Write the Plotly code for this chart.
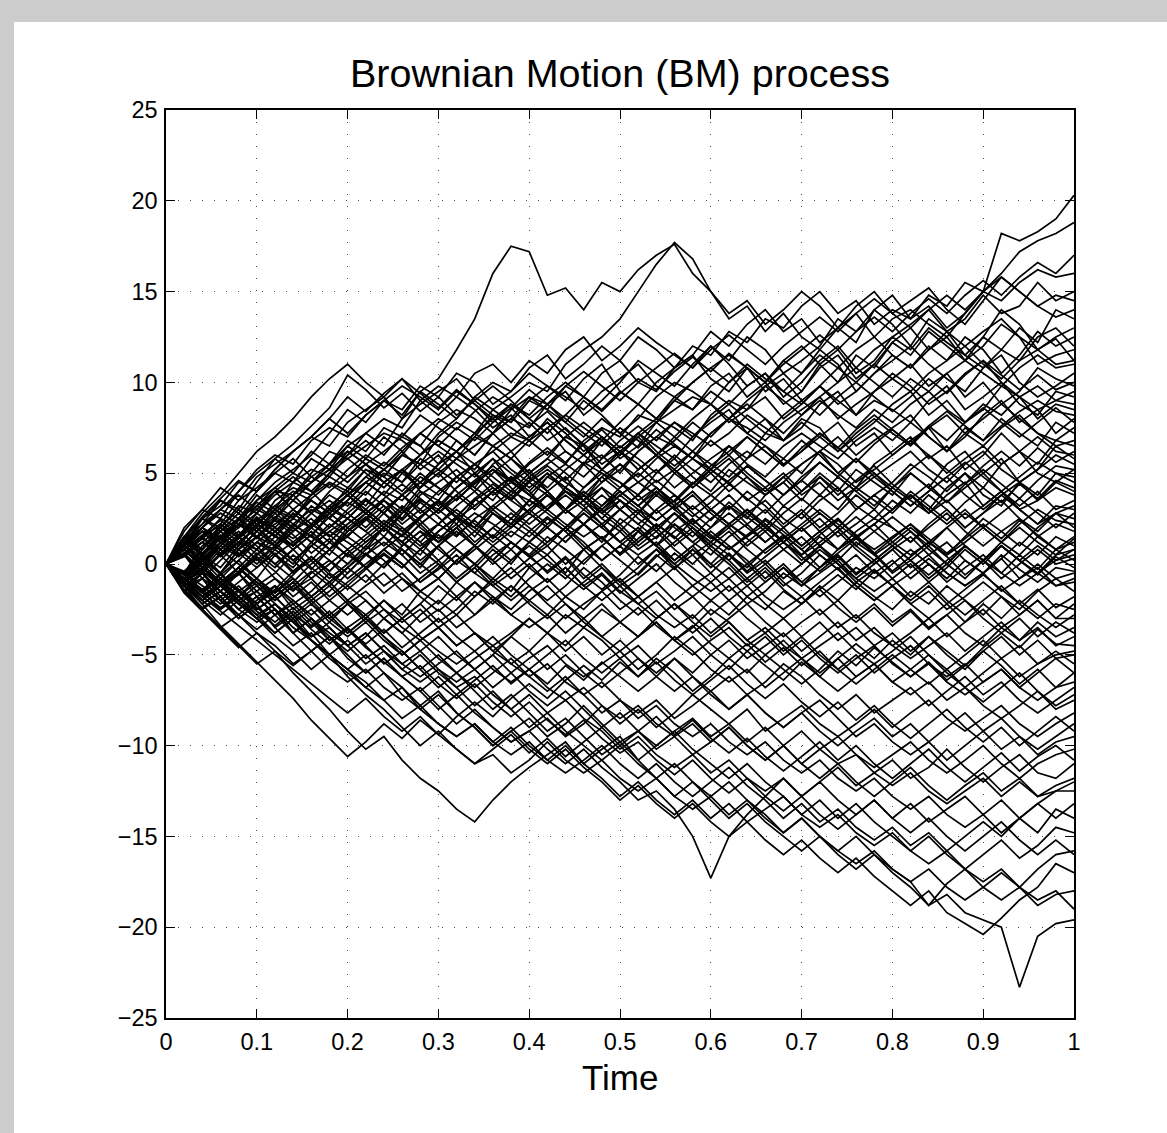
import plotly.graph_objects as go

# ---------------- data ----------------
# time grid of the simulated paths
TIME = [0, 0.02, 0.04, 0.06, 0.08, 0.10, 0.12, 0.14, 0.16, 0.18, 0.20,
        0.22, 0.24, 0.26, 0.28, 0.30, 0.32, 0.34, 0.36, 0.38, 0.40,
        0.42, 0.44, 0.46, 0.48, 0.50, 0.52, 0.54, 0.56, 0.58, 0.60,
        0.62, 0.64, 0.66, 0.68, 0.70, 0.72, 0.74, 0.76, 0.78, 0.80,
        0.82, 0.84, 0.86, 0.88, 0.90, 0.92, 0.94, 0.96, 0.98, 1.00]

# path values, recorded in tenths of a unit (value = entry * UNIT)
UNIT = 0.1

path_01 = [0,10,18,12,25,38,30,45,52,48,60, 72,65,80,95,102,118,135,160,175,172, 148,152,140,155,150,162,170,176,160,150, 135,142,128,138,125,118,130,122,140,132, 120,135,128,115,125,140,132,118,124,112]
path_02 = [0,-8,5,15,22,18,30,25,38,45,40, 52,48,60,55,70,78,72,85,92,100, 95,110,118,125,135,150,165,177,168,150, 138,145,132,140,150,142,130,138,125,135, 140,132,125,138,150,182,178,183,190,203]
path_03 = [0,12,5,18,28,20,35,42,38,50,62, 55,48,60,72,65,58,70,82,78,90, 85,98,92,105,112,100,95,108,120,115, 128,122,135,130,142,150,138,145,132,140, 135,148,142,155,150,160,172,178,182,188]
path_04 = [0,-10,2,-5,8,15,10,22,30,25,35, 45,38,50,42,55,68,60,72,80,75, 88,95,82,90,100,112,105,98,110,120, 112,125,118,105,112,120,135,128,140,148, 135,142,130,138,150,145,155,162,158,160]
path_05 = [0,15,8,22,35,42,50,45,58,52,65, 72,80,75,90,98,92,105,110,100,112, 105,118,125,112,120,130,122,115,108,120, 110,98,105,92,100,112,120,108,118,125, 132,140,128,135,148,138,142,155,145,150]
path_06 = [0,-15,-5,-18,-10,-2,8,0,12,5,18, 25,15,28,35,30,42,50,38,45,55, 62,55,68,75,70,82,78,90,85,98, 105,92,100,88,95,108,115,102,110,122, 115,128,120,112,125,118,130,122,140,135]
path_07 = [0,8,20,28,22,35,45,52,60,72,85, 78,90,82,95,88,80,92,100,95,105, 98,90,102,110,95,88,100,108,115,102, 95,108,100,112,105,118,110,95,105,115, 108,120,112,125,118,105,115,128,120,125]
path_08 = [0,-5,10,18,10,22,15,28,20,32,40, 32,45,52,40,35,48,42,55,62,50, 58,70,65,52,60,72,80,75,68,82, 90,85,98,105,95,110,100,115,108,122, 130,118,125,112,120,132,125,110,115,118]
path_09 = [0,10,0,12,25,18,30,22,15,28,35, 45,38,30,42,50,58,52,65,72,68, 80,72,62,70,58,65,78,85,92,88, 100,108,95,102,90,98,88,95,105,112, 120,110,102,95,108,115,100,92,98,105]
path_10 = [0,-12,-20,-8,-15,-25,-18,-10,-22,-15,-5, 5,-2,10,18,12,25,20,32,40,35, 48,42,55,60,50,62,70,65,58,72, 80,75,68,78,85,92,80,88,95,102, 110,98,105,92,100,88,95,108,102,98]
path_11 = [0,20,30,42,35,48,55,62,70,65,78, 85,92,80,88,95,102,90,82,75,68, 75,62,55,68,60,72,65,58,70,78, 85,72,80,68,75,88,95,82,90,85, 78,90,98,85,92,100,88,82,95,92]
path_12 = [0,-8,-18,-10,-2,-12,-5,5,-3,8,15, 8,20,12,5,18,25,15,28,22,35, 30,42,35,48,55,45,38,50,58,52, 65,58,72,68,80,75,62,70,78,88, 95,82,90,78,85,98,92,80,88,85]
path_13 = [0,12,25,18,10,22,30,38,28,40,48, 55,62,70,65,78,85,80,72,85,92, 88,80,72,65,75,68,60,52,62,55, 48,58,65,55,62,70,78,65,72,60, 68,75,62,70,82,90,78,85,72,80]
path_14 = [0,-10,-3,8,0,-8,5,-2,10,18,12, 5,15,8,-2,10,20,28,22,15,25, 32,40,35,28,38,45,52,42,50,58, 65,55,48,58,50,62,70,60,68,75, 82,70,62,75,68,80,72,65,78,72]
path_15 = [0,15,5,-5,8,18,10,20,32,25,18, 28,20,12,22,30,22,35,42,35,28, 38,30,42,50,45,38,50,58,48,40, 52,45,38,48,55,62,50,42,55,62, 70,58,65,52,60,72,62,55,68,65]
path_16 = [0,5,-8,-15,-5,-18,-12,-25,-18,-10,-20, -12,-5,-15,-8,0,-10,-2,8,0,12, 5,15,22,12,25,18,30,38,28,20, 32,25,38,45,35,48,40,52,45,38, 50,42,55,62,50,58,45,52,65,58]
path_17 = [0,10,18,8,15,5,12,22,15,8,20, 28,35,25,38,45,52,42,35,48,40, 30,42,35,25,35,28,40,32,22,30, 38,28,20,32,25,35,42,30,38,45, 55,48,40,50,42,55,62,50,45,52]
path_18 = [0,-15,-25,-18,-30,-22,-35,-28,-40,-32,-22, -30,-20,-28,-15,-22,-10,-18,-8,-15,-2, 5,-5,8,15,5,18,10,22,15,25, 32,22,30,20,28,38,30,42,35,28, 38,30,42,50,38,32,45,38,50,45]
path_19 = [0,8,-2,10,22,30,25,35,45,52,60, 68,60,72,65,55,62,50,58,45,52, 40,48,35,42,30,38,28,35,45,38, 30,40,32,22,30,20,28,38,30,42, 35,28,38,45,32,40,30,35,45,40]
path_20 = [0,-5,5,15,8,0,10,2,-8,0,8, -2,-12,-5,-15,-8,2,-5,5,12,5, 15,8,0,10,18,8,15,22,12,5, 15,22,12,20,28,18,25,15,22,30, 38,28,35,25,32,40,30,22,28,32]
path_21 = [0,12,20,12,25,32,40,30,38,48,42, 52,45,38,28,35,25,32,40,48,38, 30,40,32,22,12,20,10,18,25,15, 8,15,22,12,5,15,8,18,25,20, 12,22,30,20,28,35,25,18,28,25]
path_22 = [0,-10,-18,-25,-15,-22,-12,-20,-28,-20,-12, -20,-30,-22,-32,-25,-35,-28,-18,-25,-15, -8,-18,-10,-2,-12,-5,5,-3,8,0, 10,2,-8,0,-10,-2,8,15,5,12, 20,12,5,15,25,18,10,20,28,20]
path_23 = [0,8,15,5,12,2,10,18,25,15,22, 30,22,15,25,35,28,20,30,22,15, 25,18,8,15,5,12,22,15,5,-5, 5,-2,8,15,5,12,20,10,2,10, 18,8,0,10,2,12,20,12,5,14]
path_24 = [0,-12,-5,-15,-25,-32,-25,-38,-30,-42,-35, -28,-38,-30,-22,-32,-25,-15,-22,-12,-20, -28,-18,-25,-15,-8,-18,-10,-2,-12,-20, -12,-22,-15,-5,-12,-2,5,-5,2,-8, 0,-10,-2,8,0,10,2,-5,5,8]
path_25 = [0,15,25,35,28,40,50,58,48,55,65, 58,70,62,52,60,48,55,45,38,48, 40,30,38,28,35,25,18,28,20,12, 20,10,18,8,0,10,2,12,5,-5, 2,-8,0,10,2,-5,5,-3,8,2]
path_26 = [0,-8,2,-5,5,12,5,-5,2,12,5, -2,8,0,-10,-3,5,-5,-12,-5,3, 10,0,8,-2,-10,-2,8,0,-8,-15, -8,-18,-10,-2,-10,-18,-10,-2,-8,0, 8,0,-8,2,-5,5,-3,-10,-2,-4]
path_27 = [0,10,2,12,20,28,20,30,22,32,25, 18,28,20,12,22,30,22,15,25,18, 10,20,12,2,10,0,8,-2,5,12, 5,-5,2,-8,0,8,0,-10,-3,-12, -5,3,-5,-12,-5,-15,-8,-2,-12,-10]
path_28 = [0,-5,-15,-8,-20,-12,-22,-30,-22,-32,-40, -32,-42,-50,-42,-35,-45,-38,-48,-40,-30, -38,-28,-35,-25,-32,-40,-30,-22,-30,-20, -28,-18,-25,-15,-22,-12,-20,-10,-18,-25, -15,-22,-12,-20,-28,-18,-25,-15,-8,-15]
path_29 = [0,12,5,15,8,18,28,20,12,22,15, 25,35,28,40,32,42,50,42,35,45, 38,28,35,25,18,28,20,10,18,8, 0,-10,-2,-12,-5,5,-3,-12,-20,-12, -22,-15,-25,-18,-10,-18,-28,-20,-30,-22]
path_30 = [0,-15,-8,-20,-28,-20,-12,-22,-15,-5,-12, -3,5,-2,8,0,-10,-2,-12,-20,-12, -22,-30,-22,-15,-25,-18,-28,-35,-28,-38, -30,-22,-32,-40,-32,-25,-35,-28,-38,-45, -38,-30,-40,-32,-22,-30,-20,-28,-35,-28]
path_31 = [0,5,15,22,15,25,18,10,20,28,38, 30,22,30,20,12,20,10,2,12,5, -5,3,-8,0,-10,-18,-10,-20,-12,-5, -15,-8,-18,-25,-18,-28,-20,-30,-22,-32, -25,-35,-28,-38,-45,-35,-42,-32,-40,-35]
path_32 = [0,-10,-20,-12,-22,-30,-38,-30,-42,-50,-42, -52,-45,-55,-62,-55,-48,-58,-50,-40,-48, -38,-45,-35,-42,-52,-45,-55,-48,-40,-50, -42,-52,-45,-38,-48,-40,-32,-42,-35,-45, -52,-45,-38,-48,-40,-32,-42,-35,-45,-40]
path_33 = [0,8,0,-10,-2,8,0,-8,-18,-10,-20, -28,-20,-30,-22,-12,-20,-10,-18,-28,-35, -28,-38,-30,-40,-48,-40,-32,-42,-35,-25, -32,-42,-35,-45,-52,-45,-38,-48,-55,-48, -40,-50,-58,-50,-42,-52,-45,-55,-50,-48]
path_34 = [0,-12,-22,-15,-25,-18,-28,-20,-30,-38,-45, -38,-48,-55,-48,-58,-65,-58,-50,-60,-52, -45,-55,-62,-55,-48,-58,-50,-40,-48,-58, -65,-58,-68,-60,-52,-62,-70,-62,-55,-65, -58,-50,-60,-68,-60,-52,-62,-55,-48,-55]
path_35 = [0,10,20,12,22,15,5,12,2,-8,0, 10,2,-8,-15,-8,-18,-10,-20,-28,-20, -12,-22,-30,-22,-32,-40,-32,-42,-50,-42, -35,-45,-38,-48,-40,-50,-58,-50,-60,-52, -45,-55,-62,-55,-65,-58,-68,-60,-52,-60]
path_36 = [0,-8,-15,-5,-15,-25,-18,-10,-20,-12,-22, -15,-25,-32,-25,-35,-28,-38,-45,-38,-30, -38,-48,-40,-50,-42,-52,-60,-52,-62,-70, -62,-72,-65,-55,-62,-72,-80,-72,-82,-75, -68,-78,-70,-62,-72,-65,-75,-82,-75,-68]
path_37 = [0,12,22,30,38,30,40,48,40,30,38, 28,20,30,22,12,20,10,0,8,-2, -10,-2,-12,-20,-12,-22,-30,-22,-32,-40, -32,-42,-50,-42,-52,-60,-52,-62,-55,-65, -72,-65,-75,-68,-78,-85,-78,-70,-80,-75]
path_38 = [0,-15,-25,-35,-28,-38,-45,-55,-48,-58,-65, -58,-68,-75,-68,-78,-88,-80,-90,-98,-92, -85,-95,-88,-78,-88,-80,-90,-82,-72,-80, -88,-80,-92,-85,-78,-88,-95,-88,-80,-90, -82,-75,-85,-92,-85,-78,-88,-95,-88,-82]
path_39 = [0,8,-2,-10,-2,-12,-20,-12,-22,-30,-22, -32,-25,-35,-42,-35,-45,-38,-48,-55,-48, -58,-50,-60,-68,-60,-52,-62,-70,-62,-72, -80,-72,-82,-90,-82,-92,-100,-92,-85,-95, -88,-98,-90,-82,-92,-85,-95,-102,-95,-88]
path_40 = [0,-5,5,-5,-15,-8,-18,-28,-20,-30,-38, -30,-40,-48,-58,-50,-60,-68,-60,-52,-62, -70,-62,-72,-65,-75,-82,-75,-85,-78,-70, -80,-72,-82,-90,-82,-75,-85,-95,-88,-98, -105,-98,-108,-100,-92,-102,-95,-105,-98,-95]
path_41 = [0,-12,-25,-35,-45,-55,-48,-60,-70,-80,-92, -102,-95,-108,-118,-125,-135,-142,-130,-120,-112, -105,-98,-110,-102,-95,-108,-100,-92,-85,-95, -88,-98,-90,-100,-110,-102,-95,-105,-112,-105, -98,-108,-115,-108,-100,-110,-118,-110,-105,-102]
path_42 = [0,-8,-18,-10,-22,-30,-25,-38,-48,-40,-52, -60,-52,-62,-70,-80,-72,-82,-90,-98,-92, -102,-110,-102,-112,-120,-130,-125,-135,-150,-173, -150,-138,-128,-118,-128,-120,-112,-122,-115,-108, -118,-112,-102,-112,-120,-112,-105,-115,-118,-110]
path_43 = [0,5,-5,-15,-22,-15,-25,-35,-42,-52,-60, -68,-60,-72,-80,-72,-82,-90,-100,-92,-85, -95,-88,-78,-88,-98,-92,-102,-95,-105,-98, -90,-100,-108,-100,-110,-118,-110,-120,-128,-120, -112,-122,-130,-122,-115,-125,-118,-128,-122,-118]
path_44 = [0,-10,-2,-12,-20,-28,-22,-32,-40,-35,-45, -55,-48,-58,-50,-60,-68,-62,-72,-80,-72, -82,-75,-85,-92,-102,-95,-105,-112,-105,-115, -108,-118,-125,-118,-128,-120,-130,-138,-130,-140, -132,-142,-135,-128,-138,-130,-140,-132,-125,-125]
path_45 = [0,10,2,-8,-15,-25,-18,-28,-35,-28,-38, -30,-40,-50,-42,-52,-60,-52,-45,-55,-62, -55,-65,-72,-82,-75,-85,-78,-88,-95,-88, -98,-105,-98,-108,-115,-108,-118,-125,-118,-128, -135,-128,-138,-145,-138,-148,-140,-132,-140,-132]
path_46 = [0,-15,-8,-20,-30,-22,-35,-45,-38,-50,-58, -65,-75,-68,-80,-88,-95,-88,-98,-105,-98, -108,-115,-108,-100,-110,-118,-110,-120,-128,-120, -112,-122,-130,-140,-132,-142,-135,-145,-152,-145, -155,-148,-158,-150,-142,-150,-140,-148,-135,-140]
path_47 = [0,8,15,5,-5,3,-8,-18,-10,-20,-28, -20,-30,-38,-48,-40,-50,-58,-68,-60,-70, -78,-70,-80,-90,-82,-92,-100,-92,-102,-110, -118,-110,-120,-128,-138,-130,-140,-132,-142,-150, -158,-150,-160,-168,-160,-152,-162,-155,-145,-148]
path_48 = [0,-10,-20,-28,-20,-30,-40,-48,-58,-50,-62, -72,-80,-90,-100,-92,-102,-110,-105,-115,-108, -98,-108,-115,-108,-118,-125,-118,-128,-135,-128, -138,-130,-140,-148,-140,-150,-158,-150,-160,-168, -175,-168,-178,-185,-178,-170,-178,-168,-160,-158]
path_49 = [0,-5,-15,-25,-18,-28,-38,-30,-42,-50,-58, -50,-60,-68,-78,-70,-82,-90,-100,-92,-102, -110,-102,-112,-120,-130,-122,-132,-140,-132,-142, -150,-142,-152,-160,-152,-162,-170,-162,-172,-180, -188,-180,-192,-198,-204,-195,-185,-178,-165,-170]
path_50 = [0,-12,-5,-15,-25,-18,-28,-22,-32,-42,-35, -45,-55,-48,-58,-68,-60,-70,-80,-72,-82, -92,-85,-95,-105,-98,-108,-118,-110,-120,-128, -120,-130,-138,-148,-140,-150,-158,-165,-158,-168, -175,-188,-182,-192,-196,-200,-233,-205,-198,-196]
path_51 = [0,8,-2,-12,-5,-15,-25,-32,-25,-35,-45, -38,-48,-58,-65,-58,-68,-78,-70,-80,-90, -82,-92,-100,-108,-100,-110,-118,-128,-120,-130, -140,-132,-142,-150,-158,-150,-160,-168,-160,-170, -178,-188,-176,-168,-178,-185,-178,-188,-182,-180]
path_52 = [0,-10,-18,-10,-20,-30,-22,-32,-42,-50,-58, -68,-75,-85,-78,-88,-95,-88,-98,-90,-100, -108,-100,-110,-118,-128,-120,-130,-138,-130,-140, -132,-142,-135,-128,-138,-145,-138,-148,-155,-148, -158,-165,-158,-168,-175,-168,-178,-185,-180,-190]
path_53 = [0,15,8,18,25,15,25,35,28,20,30, 40,32,22,30,40,48,40,30,38,28, 20,30,38,28,20,10,18,8,0,10, 2,-8,0,-10,-18,-10,-2,-12,-20,-12, -22,-30,-22,-32,-25,-35,-28,-20,-30,-30]
path_54 = [0,-8,0,10,18,10,0,8,-2,-10,-2, 8,15,5,-5,2,10,18,10,2,12, 20,12,22,30,22,12,20,28,20,10, 2,12,20,12,2,10,0,-8,0,8, 15,5,12,2,-5,3,12,5,15,10]
path_55 = [0,-12,-20,-12,-2,-10,-18,-10,0,8,0, 10,20,12,22,30,38,30,40,48,40, 50,42,35,45,55,48,58,65,58,50, 40,48,38,45,55,62,55,45,52,60, 68,60,50,58,65,55,62,70,62,60]
path_56 = [0,5,12,20,12,20,10,2,10,18,25, 18,10,20,12,2,-8,0,-10,-2,-12, -20,-12,-2,-10,-20,-28,-20,-30,-38,-30, -40,-48,-40,-50,-42,-52,-60,-52,-45,-55, -62,-55,-65,-72,-65,-58,-68,-75,-68,-65]
path_57 = [0,15,28,38,50,62,70,80,92,102,110, 100,92,102,90,82,92,85,75,82,70, 78,68,60,70,62,52,60,50,42,52, 45,35,42,32,40,50,42,32,25,35, 28,38,30,20,28,38,30,22,32,30]
path_58 = [0,-5,3,12,5,15,25,18,28,35,28, 20,30,38,45,38,48,55,48,40,50, 58,50,42,52,45,35,42,32,40,30, 22,30,20,12,20,10,18,8,0,8, -2,5,-5,-12,-5,3,-8,0,-8,-5]
path_59 = [0,10,20,12,5,15,22,30,22,15,25, 35,28,38,30,22,32,40,50,58,50, 42,52,60,68,60,70,78,70,80,88, 80,90,98,90,82,92,100,108,100,92, 102,95,105,112,105,98,108,115,108,110]
path_60 = [0,-5,-12,-20,-12,-22,-15,-8,-18,-28,-20, -30,-38,-30,-40,-48,-55,-48,-58,-65,-58, -68,-75,-68,-78,-85,-78,-88,-95,-88,-98, -90,-100,-108,-100,-92,-102,-110,-105,-115,-122, -115,-125,-132,-125,-118,-128,-120,-128,-125,-120]
path_61 = [0,18,30,25,40,52,60,55,68,75,70, 82,90,85,98,92,105,100,88,95,108, 115,102,110,120,112,125,118,108,115,128, 120,132,140,128,135,122,130,142,150,138, 145,152,140,132,145,158,150,142,148,145]
path_62 = [0,-6,8,20,32,28,40,38,50,62,58, 65,72,68,60,72,80,92,85,78,90, 98,92,85,95,102,110,98,92,100,108, 115,108,100,112,120,110,118,105,112,125, 118,130,122,115,108,118,112,125,130,120]
path_63 = [0,14,22,35,30,45,58,50,62,55,68, 62,75,70,82,75,68,60,72,80,92, 85,78,90,82,72,80,92,100,95,88, 78,85,92,80,88,98,90,82,95,105, 98,88,95,105,112,100,92,85,90,95]
path_64 = [0,-10,-22,-15,-5,5,15,10,22,30,42, 38,50,45,58,52,62,70,65,58,48, 55,62,55,45,52,62,70,78,72,65, 72,82,75,68,78,70,62,72,80,72, 65,75,82,72,80,88,80,72,68,75]
path_65 = [0,10,25,32,45,40,52,62,70,80,72, 82,90,98,92,85,95,88,80,70,78, 68,75,65,55,62,52,60,70,62,72, 80,72,65,58,68,60,50,58,48,55, 62,52,45,55,62,52,45,52,60,55]
path_66 = [0,-5,-15,-8,2,12,8,18,28,38,32, 42,52,60,55,48,58,65,72,62,70, 78,68,60,52,62,55,45,52,42,50, 58,48,40,48,38,45,35,42,50,40, 32,40,48,38,30,38,45,35,42,38]
path_67 = [0,12,8,20,15,28,38,45,40,50,58, 50,42,52,60,68,62,55,62,52,45, 52,45,38,48,40,32,40,30,38,28, 20,28,35,25,18,25,15,22,30,20, 12,20,28,18,10,18,25,15,22,18]
path_68 = [0,-12,-8,2,12,8,18,25,35,28,38, 45,52,45,55,62,55,48,58,50,42, 50,40,32,42,35,28,38,30,22,30, 22,15,25,18,10,18,8,15,22,12, 5,12,20,10,2,10,2,-5,2,5]
path_69 = [0,8,18,15,25,32,25,38,45,52,45, 55,48,40,50,42,35,45,52,42,32, 40,30,22,30,38,30,20,28,18,10, 18,8,0,8,15,5,-3,5,-5,2, -8,0,-10,-2,5,-5,-12,-5,-12,-8]
path_70 = [0,-10,-18,-12,-20,-15,-8,-15,-5,2,-5, 5,12,5,15,22,15,25,32,25,35, 28,20,30,38,30,22,30,20,12,20, 28,20,12,20,10,18,25,15,8,15, 22,12,5,12,20,12,5,15,8,12]
path_71 = [0,5,-5,5,15,25,20,12,20,30,25, 35,28,38,48,42,35,45,52,45,38, 48,55,48,58,65,58,50,60,52,45, 55,62,55,65,72,65,58,68,75,68, 78,70,62,72,65,75,82,72,65,68]
path_72 = [0,15,25,20,30,22,32,40,35,28,38, 48,42,52,45,55,62,72,65,58,68, 60,70,78,70,62,70,60,68,78,70, 80,88,80,72,82,90,82,75,85,78, 88,95,85,78,88,82,92,98,90,88]
path_73 = [0,8,15,25,20,32,42,50,45,55,48, 58,52,62,72,65,75,68,78,88,80, 72,82,92,85,95,88,80,90,100,108, 100,110,102,95,105,115,108,118,125,115, 108,118,128,120,128,135,125,118,125,130]
path_74 = [0,-8,5,-2,10,22,15,25,20,12,22, 30,40,35,45,52,45,55,62,70,65, 75,82,75,68,78,88,80,92,85,95, 88,98,105,95,88,98,108,100,110,102, 95,105,112,120,110,102,112,118,110,112]
path_75 = [0,12,20,30,25,35,42,35,45,55,62, 55,45,52,42,50,40,32,40,30,22, 30,22,15,22,12,5,12,2,10,0, -8,0,-10,-2,-12,-5,2,-8,-15,-8, -18,-10,-20,-28,-20,-12,-22,-30,-22,-25]
path_76 = [0,-10,-4,6,15,8,18,10,20,28,20, 12,20,10,18,8,0,10,2,-8,0, -10,-2,-12,-5,-15,-22,-15,-25,-18,-28, -20,-30,-38,-30,-40,-32,-42,-35,-45,-38, -48,-40,-50,-58,-48,-40,-50,-42,-52,-50]
path_77 = [0,6,-4,-12,-6,4,-4,-14,-8,-18,-10, -2,6,-2,8,16,8,0,10,18,12, 22,30,22,14,22,30,24,32,40,30, 22,30,20,12,20,10,18,26,18,10, 2,10,0,-8,2,10,2,-6,4,-2]
path_78 = [0,-14,-24,-18,-28,-36,-28,-38,-30,-40,-48, -40,-30,-38,-28,-20,-28,-18,-10,-18,-8, 0,-8,2,10,2,-6,4,12,20,12, 22,14,6,14,22,30,22,14,22,30, 38,30,22,30,20,28,36,28,20,28]
path_79 = [0,4,12,6,14,22,16,8,16,26,34, 28,36,44,36,28,36,44,52,46,38, 30,38,30,22,30,38,46,38,30,38, 46,54,46,38,46,56,48,40,48,40, 32,40,48,56,48,40,48,56,50,48]
path_80 = [0,-8,-16,-24,-18,-8,-16,-6,4,-4,6, 14,22,16,26,34,26,36,44,36,46, 54,46,56,50,42,52,60,52,44,54, 62,70,62,54,62,72,64,56,66,74, 66,76,84,76,68,76,84,90,84,82]
path_81 = [0,10,4,14,6,-2,6,-4,4,-6,-14, -6,-16,-8,-18,-26,-18,-28,-20,-12,-22, -30,-22,-32,-40,-32,-24,-34,-42,-34,-44, -52,-44,-54,-46,-56,-48,-58,-66,-58,-50, -58,-66,-58,-68,-76,-68,-60,-70,-78,-72]
path_82 = [0,-6,-14,-22,-14,-24,-32,-24,-34,-26,-36, -44,-36,-46,-38,-30,-40,-48,-40,-50,-58, -50,-42,-52,-60,-52,-62,-54,-64,-72,-64, -56,-66,-74,-66,-76,-84,-76,-86,-78,-88, -96,-88,-80,-90,-98,-90,-100,-92,-84,-92]
path_83 = [0,12,20,14,24,34,28,38,48,42,52, 60,54,64,72,80,74,84,92,86,96, 88,98,106,98,90,100,108,116,108,118, 126,118,110,120,128,136,128,138,146,138, 130,140,148,140,150,158,150,142,136,140]
path_84 = [0,-10,-2,-12,-4,6,-2,8,16,8,18, 26,18,28,36,28,38,46,54,46,56, 64,56,66,58,68,76,68,78,70,80, 88,80,72,82,90,82,92,100,92,84, 92,102,94,104,112,104,96,104,96,100]
path_85 = [0,8,16,24,16,26,18,10,18,8,16, 24,32,24,34,26,16,24,14,22,30, 22,30,38,30,40,32,24,32,22,14, 22,30,22,12,20,28,20,10,18,26, 18,10,20,28,20,12,22,30,24,22]
path_86 = [0,-8,-2,-10,-18,-10,-20,-12,-4,-12,-2, 6,-2,8,0,-8,2,10,2,12,4, -4,4,-6,-14,-6,4,-4,6,-2,-10, -2,-12,-4,-14,-22,-14,-6,-14,-4,-12, -20,-12,-22,-14,-6,-14,-22,-14,-24,-18]
path_87 = [0,6,14,8,16,24,18,28,20,30,38, 30,22,32,24,14,22,12,20,28,20, 12,20,10,2,10,18,10,0,8,-2, 6,-4,4,12,4,-4,4,-6,2,10, 2,-6,2,10,2,-8,0,8,0,3]
path_88 = [0,-8,-14,-6,-14,-22,-14,-4,4,-4,6, -2,8,16,8,18,26,18,28,20,30, 38,30,40,32,42,50,42,34,44,52, 44,54,46,38,48,56,48,58,50,42, 52,60,52,44,54,62,54,64,56,62]
path_89 = [0,14,26,36,46,40,52,62,70,80,92, 84,94,102,94,86,96,88,78,86,76, 84,74,66,74,64,72,62,54,62,52, 60,50,42,50,40,48,38,46,54,44, 36,44,34,42,50,40,32,40,30,35]
path_90 = [0,-16,-26,-36,-46,-38,-48,-56,-48,-40,-50, -60,-52,-62,-70,-62,-72,-64,-56,-66,-58, -66,-56,-64,-54,-62,-70,-62,-52,-60,-50, -58,-48,-56,-64,-54,-62,-52,-44,-52,-42, -50,-40,-48,-56,-46,-38,-46,-36,-44,-45]
path_91 = [0,-8,-18,-26,-34,-42,-50,-58,-66,-74,-82, -74,-84,-92,-84,-94,-102,-110,-102,-94,-104, -96,-106,-98,-90,-100,-92,-84,-94,-86,-96, -104,-96,-106,-114,-106,-98,-108,-100,-110,-118, -110,-102,-112,-120,-112,-104,-114,-106,-100,-108]
path_92 = [0,10,2,12,22,14,24,16,6,14,4, 12,20,12,2,10,0,8,16,8,18, 26,18,28,20,12,20,10,2,10,18, 10,0,8,16,8,-2,6,14,6,-4, 4,12,4,-6,2,10,2,10,2,8]
path_93 = [0,-4,4,-6,2,-8,-16,-8,-18,-10,-2, -10,0,8,0,10,18,10,20,12,4, 12,20,28,20,30,22,14,24,32,24, 34,26,18,28,36,28,20,30,38,30, 40,32,24,34,42,34,44,36,46,42]
path_94 = [0,10,20,30,40,50,58,66,76,86,104, 96,86,94,84,92,82,90,98,90,80, 88,78,70,80,72,64,74,66,58,68, 60,70,62,54,64,72,64,74,82,74, 66,76,68,78,86,78,70,78,86,78]
path_95 = [0,-12,-22,-34,-44,-54,-64,-74,-86,-96,-106, -98,-88,-96,-86,-94,-84,-76,-84,-74,-66, -74,-64,-56,-64,-54,-62,-52,-60,-70,-62, -52,-60,-50,-58,-66,-58,-48,-56,-46,-54, -62,-54,-64,-56,-48,-56,-66,-58,-68,-60]
path_96 = [0,-6,2,10,4,12,20,14,22,16,8, 16,24,18,10,18,26,20,12,20,28, 20,12,22,14,6,14,22,14,24,16, 8,16,24,16,8,16,24,16,6,14, 22,14,6,14,22,14,24,16,8,15]
path_97 = [0,14,6,16,8,18,26,20,12,20,28, 36,28,18,26,34,26,36,28,20,30, 38,30,22,32,40,32,42,34,26,34, 44,36,28,38,46,38,48,40,32,42, 50,42,34,44,52,44,36,46,54,52]
path_98 = [0,6,12,4,12,20,12,2,10,2,-8, 0,8,0,-10,-2,8,0,-8,2,10, 2,-6,-14,-6,-16,-8,0,-10,-18,-10, -20,-12,-22,-30,-22,-14,-24,-32,-24,-34, -26,-36,-28,-20,-30,-38,-30,-40,-32,-38]
path_99 = [0,6,14,22,14,24,32,26,36,44,38, 48,56,50,60,68,62,72,80,88,82, 92,100,92,84,94,102,96,106,114,106, 116,108,100,110,118,126,118,128,136,128, 138,146,138,148,156,148,158,166,160,170]
path_100 = [0,-8,-16,-8,-18,-26,-34,-26,-36,-44,-36, -46,-54,-62,-56,-66,-74,-66,-76,-84,-76, -86,-94,-86,-96,-104,-98,-108,-116,-108,-118, -126,-118,-128,-136,-128,-138,-146,-138,-130,-140, -148,-140,-150,-158,-150,-142,-152,-160,-152,-160]

PATHS = [path_01, path_02, path_03, path_04, path_05, path_06, path_07, path_08, path_09, path_10,
         path_11, path_12, path_13, path_14, path_15, path_16, path_17, path_18, path_19, path_20,
         path_21, path_22, path_23, path_24, path_25, path_26, path_27, path_28, path_29, path_30,
         path_31, path_32, path_33, path_34, path_35, path_36, path_37, path_38, path_39, path_40,
         path_41, path_42, path_43, path_44, path_45, path_46, path_47, path_48, path_49, path_50,
         path_51, path_52, path_53, path_54, path_55, path_56, path_57, path_58, path_59, path_60,
         path_61, path_62, path_63, path_64, path_65, path_66, path_67, path_68, path_69, path_70,
         path_71, path_72, path_73, path_74, path_75, path_76, path_77, path_78, path_79, path_80,
         path_81, path_82, path_83, path_84, path_85, path_86, path_87, path_88, path_89, path_90,
         path_91, path_92, path_93, path_94, path_95, path_96, path_97, path_98, path_99, path_100]

X_TICKS = [0, 0.1, 0.2, 0.3, 0.4, 0.5, 0.6, 0.7, 0.8, 0.9, 1]
X_TICK_LABELS = ["0", "0.1", "0.2", "0.3", "0.4", "0.5", "0.6", "0.7", "0.8", "0.9", "1"]
Y_TICKS = [-25, -20, -15, -10, -5, 0, 5, 10, 15, 20, 25]
Y_TICK_LABELS = ["\u221225", "\u221220", "\u221215", "\u221210", "\u22125", "0", "5", "10", "15", "20", "25"]

TITLE = "Brownian Motion (BM) process"
X_LABEL = "Time"

# ---------------- figure ----------------
W, H = 1167, 1133
ML, MR, MT, MB = 166, 93, 110, 115
PW, PH = W - ML - MR, H - MT - MB
FONT = "Liberation Sans, Arial, Helvetica, sans-serif"

fig = go.Figure()
for p in PATHS:
    n = min(len(p), len(TIME))
    fig.add_trace(go.Scatter(
        x=TIME[:n], y=[v * UNIT for v in p[:n]],
        mode="lines", line=dict(color="black", width=1.7),
        hoverinfo="skip", showlegend=False))

def px_x(px):
    return (px - ML) / PW

def px_y(py):
    return 1 - (py - MT) / PH

GRAY = "#cccccc"
shapes = [
    dict(type="rect", xref="paper", yref="paper", x0=px_x(0), x1=px_x(W), y0=px_y(0), y1=px_y(22),
         fillcolor=GRAY, line=dict(width=0), layer="below"),
    dict(type="rect", xref="paper", yref="paper", x0=px_x(0), x1=px_x(14), y0=px_y(0), y1=px_y(H),
         fillcolor=GRAY, line=dict(width=0), layer="below"),
]

axis_common = dict(
    showline=True, linecolor="black", linewidth=1.5, mirror="allticks",
    ticks="inside", ticklen=9, tickwidth=1, tickcolor="black",
    showgrid=True, gridcolor="#4a4a4a", gridwidth=1, griddash="1px,11px",
    zeroline=False, tickfont=dict(family=FONT, size=23.5, color="black"),
)

fig.update_xaxes(range=[0, 1], tickmode="array", tickvals=X_TICKS, ticktext=X_TICK_LABELS,
                 ticklabelstandoff=2, **axis_common)
fig.update_yaxes(range=[-25, 25], tickmode="array", tickvals=Y_TICKS, ticktext=Y_TICK_LABELS,
                 ticklabelstandoff=2, **axis_common)

fig.update_layout(
    width=W, height=H,
    margin=dict(l=ML, r=MR, t=MT, b=MB, autoexpand=False),
    paper_bgcolor="white", plot_bgcolor="white",
    showlegend=False, hovermode=False,
    shapes=shapes,
    title=dict(text=TITLE, font=dict(family=FONT, size=39.5, color="black"),
               x=620 / W, xanchor="center", xref="container",
               y=1 - 73 / H, yanchor="middle", yref="container"),
    annotations=[dict(text=X_LABEL, xref="paper", yref="paper", x=0.5, y=px_y(1077),
                      xanchor="center", yanchor="middle", showarrow=False,
                      font=dict(family=FONT, size=35, color="black"))],
)

fig.write_html("out.html")
